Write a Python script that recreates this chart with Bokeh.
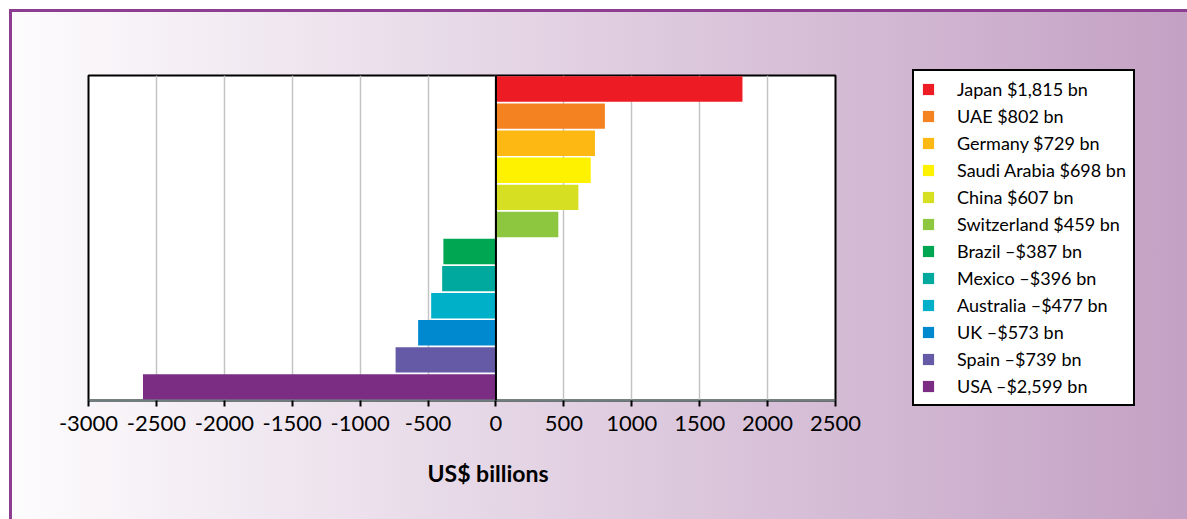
from bokeh.plotting import figure
from bokeh.models import (ColumnDataSource, FactorRange, Legend, LegendItem, Span,
                          Title, FixedTicker, Range1d)
from bokeh.embed import file_html
from bokeh.resources import INLINE

countries = ["Japan", "UAE", "Germany", "Saudi Arabia", "China", "Switzerland",
             "Brazil", "Mexico", "Australia", "UK", "Spain", "USA"]
values = [1815, 802, 729, 698, 607, 459, -387, -396, -477, -573, -739, -2599]
labels = ["Japan $1,815 bn", "UAE $802 bn", "Germany $729 bn", "Saudi Arabia $698 bn",
          "China $607 bn", "Switzerland $459 bn", "Brazil \u2013$387 bn",
          "Mexico \u2013$396 bn", "Australia \u2013$477 bn", "UK \u2013$573 bn",
          "Spain \u2013$739 bn", "USA \u2013$2,599 bn"]
colors = ["#ED1C24", "#F58220", "#FDB813", "#FFF200", "#D7DF23", "#8DC63F",
          "#00A651", "#00A99D", "#00AFC8", "#0089CF", "#645AA6", "#7B2C83"]
x_ticks = [-3000, -2500, -2000, -1500, -1000, -500, 0, 500, 1000, 1500, 2000, 2500]
x_tick_labels = ["-3000", "-2500", "-2000", "-1500", "-1000", "-500", "0", "500",
                 "1000", "1500", "2000", "2500"]

FONT = "Lato"

p = figure(frame_width=747, frame_height=325, width=1187, height=519,
           min_border_left=88, min_border_top=75, min_border_right=0, min_border_bottom=119,
           y_range=FactorRange(factors=list(reversed(countries)), range_padding=0),
           x_range=Range1d(-3000, 2500),
           output_backend="svg", toolbar_location=None)

p.styles = {
    "background": (
        "linear-gradient(#8E3E91, #8E3E91) 9px 9px / 100% 3px no-repeat, "
        "linear-gradient(#8E3E91, #8E3E91) 9px 9px / 3px 100% no-repeat, "
        "linear-gradient(to right, #fdfcfd, #b285b3) 10px 10px / calc(100% - 10px) 100% no-repeat, "
        "white"
    )
}
p.border_fill_color = None
p.background_fill_color = "white"
p.outline_line_color = "black"
p.outline_line_width = 2

renderers = []
for c, v, col in zip(countries, values, colors):
    src = ColumnDataSource(dict(y=[c], right=[v], left=[0]))
    r = p.hbar(y="y", left="left", right="right", height=0.94, source=src,
               fill_color=col, line_color=None)
    renderers.append(r)

p.add_layout(Span(location=0, dimension="height", line_color="black", line_width=2))

p.yaxis.visible = False
p.ygrid.visible = False
p.xgrid.ticker = FixedTicker(ticks=x_ticks)
p.xgrid.grid_line_color = "#C4C4C4"
p.xgrid.grid_line_width = 1.5

ax = p.xaxis[0]
ax.ticker = FixedTicker(ticks=x_ticks)
ax.major_label_overrides = dict(zip(x_ticks, x_tick_labels))
ax.axis_line_color = "#6E7E7E"
ax.axis_line_width = 2
ax.major_tick_line_color = "black"
ax.major_tick_line_width = 2
ax.major_tick_in = 0
ax.major_tick_out = 6
ax.minor_tick_line_color = None
ax.major_label_standoff = 9
ax.major_label_text_font = FONT
ax.major_label_text_font_size = "22px"
ax.major_label_text_color = "black"

p.add_layout(Title(text="US$ billions", align="left", offset=339, standoff=46,
                   text_font=FONT, text_font_size="23px", text_font_style="bold",
                   text_color="black"), "below")

items = [LegendItem(label=l, renderers=[r]) for l, r in zip(labels, renderers)]
legend = Legend(items=items, location=(77, -6), margin=0, padding=7,
                glyph_width=14, glyph_height=14, label_height=22, spacing=5,
                label_standoff=22, label_text_font=FONT, label_text_font_size="18px",
                label_text_color="black", border_line_color="black", border_line_width=2,
                border_line_alpha=1,
                background_fill_color="white", background_fill_alpha=1)
p.add_layout(legend, "right")

open("out.html", "w").write(file_html(p, INLINE))
